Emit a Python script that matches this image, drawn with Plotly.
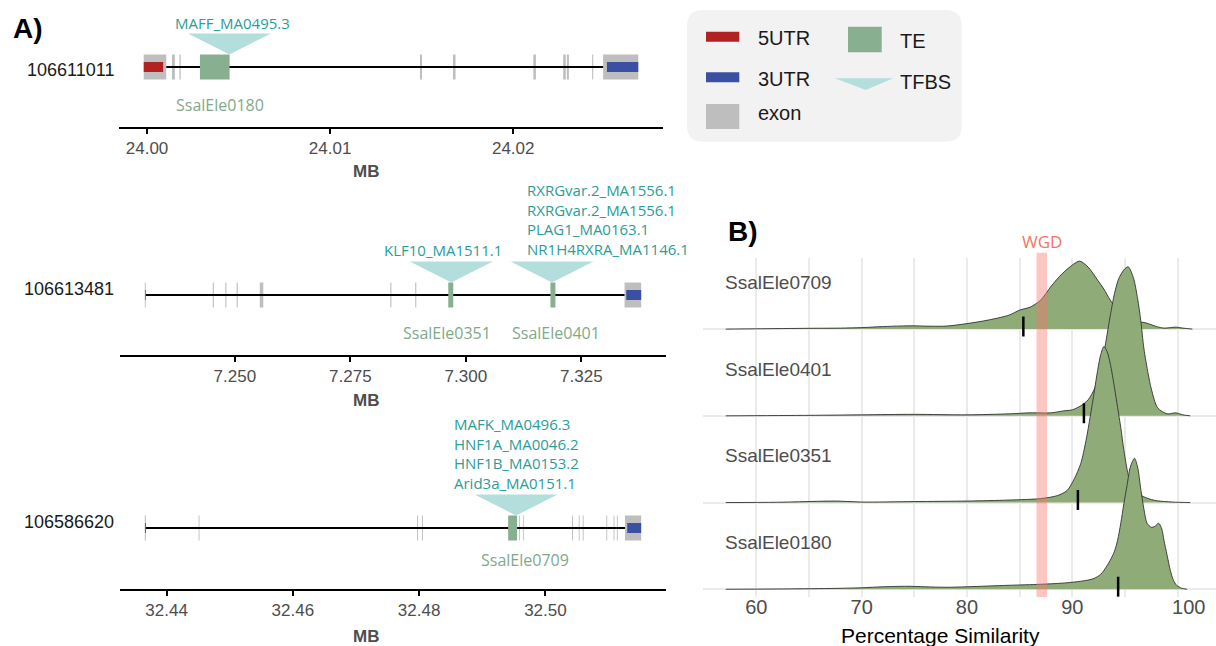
import plotly.graph_objects as go

W, H = 1216, 646

# ---------------- Panel A data (positions in MB) ----------------
gene_ids = ["106611011", "106613481", "106586620"]

exons_a1 = [[23.99982, 24.00105], [24.00136, 24.00152], [24.00177, 24.00184],
            [24.01491, 24.01502], [24.01671, 24.01685], [24.02110, 24.02124],
            [24.02273, 24.02287], [24.02293, 24.02304], [24.02431, 24.02437],
            [24.02491, 24.02683]]
utr5_a1 = [23.99982, 24.00088]
utr3_a1 = [24.02512, 24.02683]
te_a1 = [[24.00289, 24.00451]]
te_names_a1 = ["SsalEle0180"]
tfbs_pos_a1 = [24.0045]
tfbs_labels_a1 = [["MAFF_MA0495.3"]]
ticks_a1 = [24.00, 24.01, 24.02]

exons_a2 = [[7.23052, 7.23072], [7.24522, 7.24546], [7.24794, 7.24818],
            [7.25040, 7.25064], [7.25540, 7.25616], [7.28365, 7.28389],
            [7.28904, 7.28928], [7.33435, 7.33795]]
utr5_a2 = [7.23055, 7.23069]
utr3_a2 = [7.33472, 7.33795]
te_a2 = [[7.29620, 7.29728], [7.31831, 7.31939]]
te_names_a2 = ["SsalEle0351", "SsalEle0401"]
tfbs_pos_a2 = [7.29685, 7.31865]
tfbs_labels_a2 = [["KLF10_MA1511.1"],
                  ["RXRGvar.2_MA1556.1", "RXRGvar.2_MA1556.1",
                   "PLAG1_MA0163.1", "NR1H4RXRA_MA1146.1"]]
ticks_a2 = [7.250, 7.275, 7.300, 7.325]

exons_a3 = [[32.43655, 32.43672], [32.44507, 32.44521], [32.47968, 32.47982],
            [32.48047, 32.48061], [32.49581, 32.49595], [32.49644, 32.49658],
            [32.50422, 32.50436], [32.50528, 32.50542], [32.50591, 32.50605],
            [32.50965, 32.50979], [32.51080, 32.51094], [32.51132, 32.51146],
            [32.51260, 32.51517]]
utr5_a3 = [32.43657, 32.43670]
utr3_a3 = [32.51296, 32.51517]
te_a3 = [[32.49410, 32.49552]]
te_names_a3 = ["SsalEle0709"]
tfbs_pos_a3 = [32.49536]
tfbs_labels_a3 = [["MAFK_MA0496.3", "HNF1A_MA0046.2", "HNF1B_MA0153.2", "Arid3a_MA0151.1"]]
ticks_a3 = [32.44, 32.46, 32.48, 32.50]

# ---------------- Panel B data ----------------
ridge_names = ["SsalEle0180", "SsalEle0351", "SsalEle0401", "SsalEle0709"]

x_0709 = [57.1, 60, 65, 68, 70, 72, 74, 75, 76, 78, 80, 82, 84, 85, 86, 87, 88, 89, 90, 90.7,
          91.5, 92.4, 93, 93.6, 94.1, 94.8, 95.5, 96, 96.6, 97.2, 98, 98.7, 99.3, 99.8, 100.5, 101.4]
d_0709 = [0, 0.3, 0.8, 1, 1.5, 2.5, 3.2, 3.3, 3, 3, 5.5, 9, 14, 19, 22, 29, 43, 55, 64, 68,
          62, 49, 40, 29, 22, 14, 8, 6, 7, 5.5, 2.5, 1, 1.5, 2, 1, 0]

x_0401 = [57.1, 65, 70, 75, 80, 84, 86, 88, 89.2, 90, 90.8, 91.5, 92.1, 92.7, 93.2, 93.6, 94.0,
          94.4, 94.9, 95.3, 95.8, 96.2, 96.5, 96.8, 97.2, 97.5, 98.1, 99.0, 99.8, 100.5, 101.2]
d_0401 = [0, 0.5, 1, 1.5, 1, 2, 3, 3, 5, 6, 10, 16, 27, 47, 75, 100, 122,
          137, 146, 149, 138, 117, 95, 67, 42, 27, 8, 2, 3, 1, 0]

x_0351 = [57.1, 62, 67.6, 70, 75, 80, 84, 87, 88.6, 89.5, 90.2, 90.8, 91.3, 91.7, 92.1, 92.4,
          92.7, 93.0, 93.3, 93.6, 94.0, 94.3, 94.6, 94.9, 95.4, 96.0, 96.8, 97.5, 98.1, 99.5, 101.2]
d_0351 = [0, 0.3, 1.5, 0.5, 1, 1.5, 2.5, 4, 7, 12, 24, 39, 62, 86, 112, 132,
          148, 156, 151, 139, 115, 95, 75, 52, 24, 11, 5.7, 3, 1.7, 0.5, 0]

x_0180 = [57.1, 62, 67, 70, 72, 74.3, 76, 78, 80, 84, 87, 89.5, 91.4, 92.1, 92.7, 93.2, 93.6,
          94.0, 94.3, 94.6, 94.9, 95.2, 95.5, 95.9, 96.2, 96.5, 96.8, 97.1, 97.5, 97.8, 98.2,
          98.5, 98.7, 99.0, 99.3, 99.6, 99.9, 100.4, 100.9]
d_0180 = [0, 0.3, 0.8, 1.5, 2.5, 3, 2.5, 2, 2.5, 4, 5, 6.5, 9, 11, 15, 22, 29,
          38, 49, 66, 86, 104, 122, 131, 122, 100, 80, 66, 62, 62.7, 66,
          60, 49, 34, 19, 9, 4, 1, 0]

medians = [94.35, 90.53, 91.1, 85.35]   # order of ridge_names
wgd_range = [86.6, 87.6]
x_ticks_b = [60, 65, 70, 75, 80, 85, 90, 95, 100]
x_ticktext_b = ["60", "", "70", "", "80", "", "90", "", "\u00a0\u00a0\u00a0\u00a0100"]

# ---------------- styling ----------------
C_EXON = "#BEBEBE"
C_5UTR = "#B22222"
C_3UTR = "#3A50A2"
C_TE = "#87AF90"
C_TE_TXT = "#80A98A"
C_TFBS = "#B4DEDC"
C_TFBS_TXT = "#2A9D98"
C_RIDGE = "#8FAB78"
SANS = "Liberation Sans, Arial, sans-serif"
HUM = "Open Sans, Noto Sans, sans-serif"
PXU = 25.0  # pixels per y unit in gene panels


def pxx(px):
    return px / W


def pyy(py):
    return 1 - py / H


fig = go.Figure()
shapes = []
annotations = []

panels = [
    dict(exons=exons_a1, utr5=utr5_a1, utr3=utr3_a1, te=te_a1, te_names=te_names_a1,
         tfbs=tfbs_pos_a1, tfbs_lab=tfbs_labels_a1, ticks=ticks_a1, fmt=".2f",
         xl=119, xr=663, axis_py=127, top_py=0, gene_py=67, id_py=70, mb_py=172,
         lab_style=[("center", 3, 1.76)], te_style=[(5, -1.52)]),
    dict(exons=exons_a2, utr5=utr5_a2, utr3=utr3_a2, te=te_a2, te_names=te_names_a2,
         tfbs=tfbs_pos_a2, tfbs_lab=tfbs_labels_a2, ticks=ticks_a2, fmt=".3f",
         xl=120, xr=666, axis_py=355, top_py=140, gene_py=295, id_py=289, mb_py=400,
         lab_style=[("center", -8, 1.8), ("left", -27, 3.02)], te_style=[(-4, -1.53), (3.5, -1.53)]),
    dict(exons=exons_a3, utr5=utr5_a3, utr3=utr3_a3, te=te_a3, te_names=te_names_a3,
         tfbs=tfbs_pos_a3, tfbs_lab=tfbs_labels_a3, ticks=ticks_a3, fmt=".2f",
         xl=120, xr=666, axis_py=589, top_py=400, gene_py=528, id_py=522, mb_py=636,
         lab_style=[("left", -64, 3.0)], te_style=[(12.5, -1.28)]),
]

for k, p in enumerate(panels, start=1):
    xr_ = "x" if k == 1 else f"x{k}"
    yr_ = "y" if k == 1 else f"y{k}"
    xa = "xaxis" if k == 1 else f"xaxis{k}"
    ya = "yaxis" if k == 1 else f"yaxis{k}"
    lo = min(e[0] for e in p["exons"])
    hi = max(e[1] for e in p["exons"])
    pad = 0.05 * (hi - lo)
    y_lo = -(p["axis_py"] - p["gene_py"]) / PXU
    y_hi = y_lo + (p["axis_py"] - p["top_py"]) / PXU
    fig.update_layout(**{
        xa: dict(domain=[pxx(p["xl"]), pxx(p["xr"])], range=[lo - pad, hi + pad], anchor=yr_,
                 showline=True, linecolor="black", linewidth=2, ticks="outside", ticklen=5,
                 tickwidth=1.5, tickcolor="black", tickvals=p["ticks"], tickformat=p["fmt"],
                 tickfont=dict(family=SANS, size=17, color="#4d4d4d"), showgrid=False,
                 zeroline=False, fixedrange=True),
        ya: dict(domain=[pyy(p["axis_py"]), pyy(p["top_py"])], range=[y_lo, y_hi], anchor=xr_,
                 visible=False, fixedrange=True),
    })
    # exons
    for s, e in p["exons"]:
        shapes.append(dict(type="rect", xref=xr_, yref=yr_, x0=s, x1=e, y0=-0.5, y1=0.5,
                           fillcolor=C_EXON, line=dict(width=0), layer="below"))
    # intron line
    fig.add_trace(go.Scatter(x=[p["exons"][0][1], p["exons"][-1][0]], y=[0, 0], mode="lines",
                             line=dict(color="black", width=2), xaxis=xr_, yaxis=yr_,
                             hoverinfo="skip", showlegend=False))
    # UTRs
    shapes.append(dict(type="rect", xref=xr_, yref=yr_, x0=p["utr5"][0], x1=p["utr5"][1],
                       y0=-0.2, y1=0.2, fillcolor=C_5UTR, line=dict(width=0), layer="above"))
    shapes.append(dict(type="rect", xref=xr_, yref=yr_, x0=p["utr3"][0], x1=p["utr3"][1],
                       y0=-0.2, y1=0.2, fillcolor=C_3UTR, line=dict(width=0), layer="above"))
    # TEs
    for (s, e), name, (dx, ty) in zip(p["te"], p["te_names"], p["te_style"]):
        shapes.append(dict(type="rect", xref=xr_, yref=yr_, x0=s, x1=e, y0=-0.5, y1=0.5,
                           fillcolor=C_TE, line=dict(width=0), layer="above"))
        annotations.append(dict(x=(s + e) / 2, y=ty, xref=xr_, yref=yr_, text=name,
                                showarrow=False, xshift=dx, xanchor="center", yanchor="middle",
                                font=dict(family=HUM, size=16, color=C_TE_TXT)))
    # TFBS
    for pos, labs, (anc, dx, ty) in zip(p["tfbs"], p["tfbs_lab"], p["lab_style"]):
        shapes.append(dict(type="path", xref=xr_, yref=yr_, xsizemode="pixel", ysizemode="pixel",
                           xanchor=pos, yanchor=0.5, path="M -41.5,21 L 41.5,21 L 0,0 Z",
                           fillcolor=C_TFBS, line=dict(width=0), layer="above"))
        annotations.append(dict(x=pos, y=ty, xref=xr_, yref=yr_, text="<br>".join(labs),
                                showarrow=False, xshift=dx, xanchor=anc, yanchor="middle",
                                align="left", font=dict(family=HUM, size=15, color=C_TFBS_TXT)))
    # gene id and MB title
    annotations.append(dict(x=pxx(116), y=pyy(p["id_py"]), xref="paper", yref="paper",
                            text=gene_ids[k - 1], showarrow=False, xanchor="right", yanchor="middle",
                            font=dict(family=SANS, size=18, color="#1a1a1a")))
    annotations.append(dict(x=pxx(366), y=pyy(p["mb_py"]), xref="paper", yref="paper",
                            text="<b>MB</b>", showarrow=False, xanchor="center", yanchor="middle",
                            font=dict(family=SANS, size=17, color="#4d4d4d")))

# ---------------- Panel B ----------------
RIDGE_SCALE = 1 / 86.7
ridge_x = [x_0180, x_0351, x_0401, x_0709]
ridge_d = [d_0180, d_0351, d_0401, d_0709]
for i in [3, 2, 1, 0]:
    xs = ridge_x[i]
    ys = [i + d * RIDGE_SCALE for d in ridge_d[i]]
    fig.add_trace(go.Scatter(x=xs, y=ys, mode="lines", fill="toself", fillcolor=C_RIDGE,
                             line=dict(color="#333333", width=0.9, shape="spline", smoothing=0.8),
                             xaxis="x4", yaxis="y4", hoverinfo="skip", showlegend=False))
    fig.add_trace(go.Scatter(x=[medians[i], medians[i]], y=[i - 0.085, i + 0.145], mode="lines",
                             line=dict(color="black", width=2.5), xaxis="x4", yaxis="y4",
                             hoverinfo="skip", showlegend=False))
    annotations.append(dict(x=pxx(722.7), y=i + 0.54, xref="paper", yref="y4", text=ridge_names[i],
                            showarrow=False, xanchor="left", yanchor="middle",
                            font=dict(family=SANS, size=19, color="#4d4d4d")))

fig.update_layout(
    xaxis4=dict(domain=[pxx(703), 1.0], range=[54.94, 103.64], anchor="y4",
                tickvals=x_ticks_b, ticktext=x_ticktext_b,
                showgrid=True, gridcolor="#EBEBEB", gridwidth=1.5, zeroline=False, showline=False,
                ticks="", ticklabelstandoff=-4,
                tickfont=dict(family=SANS, size=20, color="#4d4d4d"), fixedrange=True),
    yaxis4=dict(domain=[pyy(597), pyy(258)], range=[-0.089, 3.82], anchor="x4",
                tickvals=[0, 1, 2, 3], showticklabels=False, showgrid=True, gridcolor="#EBEBEB",
                gridwidth=1.5, zeroline=False, fixedrange=True),
)

shapes.append(dict(type="rect", xref="x4", yref="paper", x0=wgd_range[0], x1=wgd_range[1],
                   y0=pyy(597), y1=pyy(252.7), fillcolor="#F8766D", opacity=0.42,
                   line=dict(width=0), layer="above"))
annotations.append(dict(x=sum(wgd_range) / 2, y=pyy(241.7), xref="x4", yref="paper", text="WGD",
                        showarrow=False, xanchor="center", yanchor="middle",
                        font=dict(family=HUM, size=17, color="#F07565")))
annotations.append(dict(x=pxx(940), y=pyy(635), xref="paper", yref="paper",
                        text="Percentage Similarity", showarrow=False, xanchor="center",
                        yanchor="middle", font=dict(family=SANS, size=21, color="black")))

# panel letters
annotations.append(dict(x=pxx(11), y=pyy(29), xref="paper", yref="paper", text="<b>A)</b>",
                        showarrow=False, xanchor="left", yanchor="middle",
                        font=dict(family=SANS, size=28, color="black")))
annotations.append(dict(x=pxx(726), y=pyy(232), xref="paper", yref="paper", text="<b>B)</b>",
                        showarrow=False, xanchor="left", yanchor="middle",
                        font=dict(family=SANS, size=28, color="black")))

# ---------------- legend (drawn) ----------------
bx0, bx1, by0, by1, r = pxx(687), pxx(961.7), pyy(10), pyy(141.7), 16
rx, ry = r / W, r / H
shapes.append(dict(type="path", xref="paper", yref="paper", fillcolor="#F2F2F2", line=dict(width=0),
                   path=(f"M {bx0+rx},{by0} L {bx1-rx},{by0} Q {bx1},{by0} {bx1},{by0-ry} "
                         f"L {bx1},{by1+ry} Q {bx1},{by1} {bx1-rx},{by1} L {bx0+rx},{by1} "
                         f"Q {bx0},{by1} {bx0},{by1+ry} L {bx0},{by0-ry} Q {bx0},{by0} {bx0+rx},{by0} Z"),
                   layer="above"))
legend_items = [
    ("rect", C_5UTR, (706, 739.3, 31.7, 41.7), "5UTR", 756, 38),
    ("rect", C_3UTR, (706, 739.3, 72.3, 82.3), "3UTR", 756, 79),
    ("rect", C_EXON, (706, 739.3, 104, 129), "exon", 756, 113),
    ("rect", C_TE, (848, 881.7, 26.7, 52.3), "TE", 898, 41),
]
for kind, col, (x0, x1, y0, y1), lab, tx, ty in legend_items:
    shapes.append(dict(type="rect", xref="paper", yref="paper", x0=pxx(x0), x1=pxx(x1),
                       y0=pyy(y1), y1=pyy(y0), fillcolor=col, line=dict(width=0), layer="above"))
    annotations.append(dict(x=pxx(tx), y=pyy(ty), xref="paper", yref="paper", text=lab,
                            showarrow=False, xanchor="left", yanchor="middle",
                            font=dict(family=SANS, size=20, color="#1a1a1a")))
shapes.append(dict(type="path", xref="paper", yref="paper", fillcolor=C_TFBS, line=dict(width=0),
                   path=f"M {pxx(835)},{pyy(78.3)} L {pxx(893.3)},{pyy(78.3)} L {pxx(865.7)},{pyy(90)} Z",
                   layer="above"))
annotations.append(dict(x=pxx(898), y=pyy(82), xref="paper", yref="paper", text="TFBS",
                        showarrow=False, xanchor="left", yanchor="middle",
                        font=dict(family=SANS, size=20, color="#1a1a1a")))

fig.update_layout(width=W, height=H, margin=dict(l=0, r=0, t=0, b=0), autosize=False,
                  paper_bgcolor="white", plot_bgcolor="white", shapes=shapes,
                  annotations=annotations, showlegend=False, hovermode=False)

fig.write_html("out.html", config={"displayModeBar": False},
               post_script="document.body.style.margin='0';document.body.style.overflow='hidden';")
